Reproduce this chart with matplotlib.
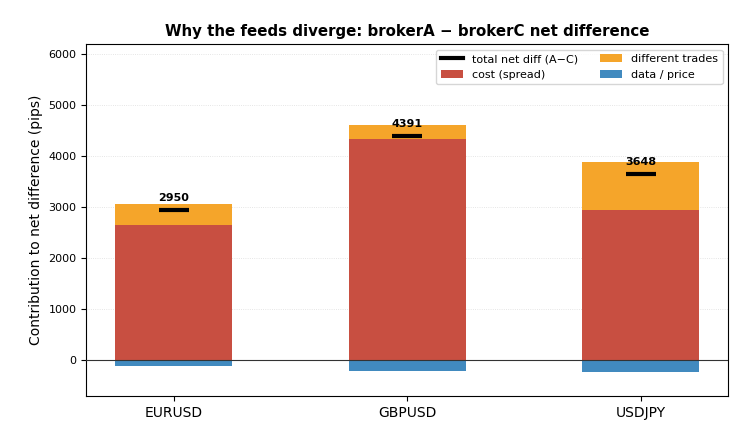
import numpy as np
import matplotlib
matplotlib.use('Agg')
import matplotlib.pyplot as plt
from matplotlib.lines import Line2D

pairs = ['EURUSD', 'GBPUSD', 'USDJPY']
cost_spread = [2650, 4335, 2945]
different_trades = [410, 275, 935]
data_price = [-110, -219, -232]
total_net_diff = [2950, 4391, 3648]

col_cost = '#c84f41'
col_trades = '#f5a52a'
col_data = '#418abf'


def main():
    fig, ax = plt.subplots(figsize=(7.5, 4.4), dpi=100)
    fig.subplots_adjust(left=0.115, right=0.971, top=0.9, bottom=0.1)

    x = np.arange(len(pairs))
    w = 0.5

    b_cost = ax.bar(x, cost_spread, width=w, color=col_cost, label='cost (spread)', zorder=2)
    b_trades = ax.bar(x, different_trades, width=w, bottom=cost_spread, color=col_trades,
                      label='different trades', zorder=2)
    b_data = ax.bar(x, data_price, width=w, color=col_data, label='data / price', zorder=2)

    # total markers
    ax.hlines(total_net_diff, x - 0.065, x + 0.065, color='black', lw=3, zorder=3)
    for xi, t in zip(x, total_net_diff):
        ax.annotate(str(t), (xi, t), xytext=(0, 5), textcoords='offset points',
                    ha='center', va='bottom', fontsize=8, fontweight='bold', zorder=4)

    ax.axhline(0, color='#333333', lw=0.8, zorder=3)
    ax.grid(axis='y', linestyle=':', color='#dddddd', lw=0.6, zorder=0)
    ax.set_axisbelow(True)

    ax.set_ylim(-700, 6200)
    ax.set_xticks(x)
    ax.set_xticklabels(pairs, fontsize=10)
    ax.tick_params(axis='y', labelsize=8)
    ax.set_ylabel('Contribution to net difference (pips)', fontsize=10)
    ax.set_title('Why the feeds diverge: brokerA \u2212 brokerC net difference',
                 fontsize=10.8, fontweight='bold')

    h_tot = Line2D([0], [0], color='black', lw=3)
    ax.legend([h_tot, b_cost, b_trades, b_data],
              ['total net diff (A\u2212C)', 'cost (spread)', 'different trades', 'data / price'],
              ncol=2, loc='upper right', fontsize=8)

    fig.savefig('out.png', dpi=100)


if __name__ == '__main__':
    main()
